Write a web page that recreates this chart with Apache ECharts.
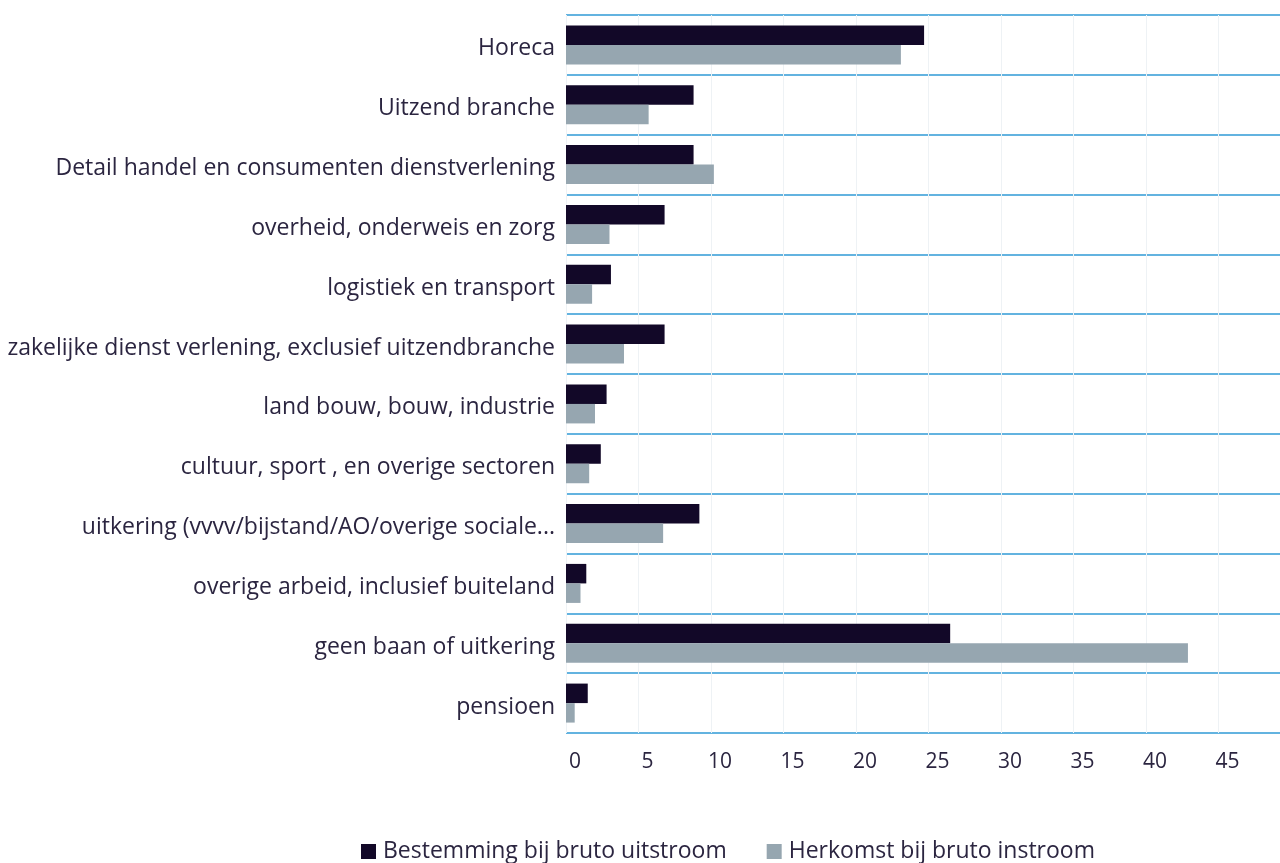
<!DOCTYPE html>
<html>
<head>
<meta charset="utf-8">
<script src="https://cdn.jsdelivr.net/npm/echarts@6/dist/echarts.min.js"></script>
<style>
  html, body { margin: 0; padding: 0; background: #ffffff; }
  #chart { width: 1280px; height: 863px; }
</style>
</head>
<body>
<div id="chart"></div>
<script>
// Sectors, top to bottom
const categories = [
  'Horeca',
  'Uitzend branche',
  'Detail handel en consumenten dienstverlening',
  'overheid, onderweis en zorg',
  'logistiek en transport',
  'zakelijke dienst verlening, exclusief uitzendbranche',
  'land bouw, bouw, industrie',
  'cultuur, sport , en overige sectoren',
  'uitkering (vvvv/bijstand/AO/overige sociale...',
  'overige arbeid, inclusief buiteland',
  'geen baan of uitkering',
  'pensioen'
];

const seriesNames = ['Bestemming bij bruto uitstroom', 'Herkomst bij bruto instroom'];

// Destination on gross outflow (%)
const uitstroom = [24.7, 8.8, 8.8, 6.8, 3.1, 6.8, 2.8, 2.4, 9.2, 1.4, 26.5, 1.5];
// Origin on gross inflow (%)
const instroom = [23.1, 5.7, 10.2, 3.0, 1.8, 4.0, 2.0, 1.6, 6.7, 1.0, 42.9, 0.6];

const xTicks = [0, 5, 10, 15, 20, 25, 30, 35, 40, 45];

const textColor = '#2b2540';
const fontFamily = '"Open Sans", Lato, sans-serif';

const chart = echarts.init(document.getElementById('chart'), null, { renderer: 'canvas' });

chart.setOption({
  animation: false,
  backgroundColor: '#ffffff',
  textStyle: { fontFamily: fontFamily, color: textColor },
  grid: { left: 566, right: 0, top: 15, height: 718, containLabel: false },
  legend: {
    data: seriesNames,
    top: 835,
    left: 356,
    icon: 'rect',
    itemWidth: 15,
    itemHeight: 15,
    itemGap: 40,
    textStyle: { fontSize: 23, color: textColor, fontFamily: fontFamily, padding: [0, 0, 0, 2] }
  },
  xAxis: {
    type: 'value',
    min: 0,
    max: 49.25,
    interval: 5,
    axisLine: { show: false },
    axisTick: { show: false },
    splitLine: { show: true, lineStyle: { color: '#eef2f5', width: 1 } },
    axisLabel: {
      fontSize: 21,
      color: textColor,
      margin: 19,
      padding: [0, 0, 0, 18],
      showMaxLabel: false,
      formatter: function (v) { return xTicks.indexOf(v) >= 0 ? String(v) : ''; }
    }
  },
  yAxis: {
    type: 'category',
    data: categories,
    inverse: true,
    axisLine: { show: false },
    axisTick: { show: false },
    splitLine: { show: true, lineStyle: { color: '#63b3e0', width: 2 } },
    axisLabel: {
      fontSize: 23,
      color: textColor,
      margin: 11,
      verticalAlign: 'top',
      lineHeight: 8
    }
  },
  series: [
    {
      name: seriesNames[0],
      type: 'bar',
      data: uitstroom,
      itemStyle: { color: '#120828' },
      barWidth: 19.5,
      barGap: '0%'
    },
    {
      name: seriesNames[1],
      type: 'bar',
      data: instroom,
      itemStyle: { color: '#96a6b0' },
      barWidth: 19.5,
      barGap: '0%'
    }
  ]
});
</script>
</body>
</html>
